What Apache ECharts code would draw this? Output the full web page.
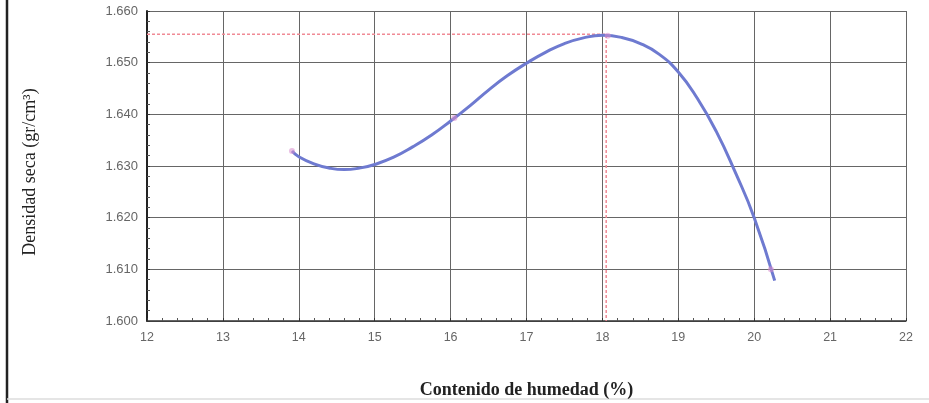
<!DOCTYPE html>
<html>
<head>
<meta charset="utf-8">
<title>Densidad seca vs contenido de humedad</title>
<script src="https://cdn.jsdelivr.net/npm/echarts@6/dist/echarts.min.js"></script>
<style>
  html, body { margin: 0; padding: 0; background: #fff; }
  #chart { width: 929px; height: 403px; }
</style>
</head>
<body>
<div id="chart"></div>
<script>
// curve (humedad %, densidad gr/cm3)
const curveHumedad = [13.91, 14.00, 14.20, 14.40, 14.60, 14.80, 15.00, 15.25, 15.50, 15.75, 16.00, 16.25, 16.50, 16.75, 17.00, 17.25, 17.50, 17.75, 18.00, 18.25, 18.50, 18.75, 19.00, 19.25, 19.50, 19.75, 20.00, 20.27]
const curveDensidad = [1.6329, 1.6318, 1.6304, 1.6296, 1.6293, 1.6296, 1.6303, 1.6317, 1.6337, 1.6360, 1.6387, 1.6416, 1.6447, 1.6475, 1.6499, 1.6520, 1.6537, 1.6548, 1.6553, 1.6549, 1.6537, 1.6516, 1.6482, 1.6431, 1.6367, 1.6288, 1.6200, 1.6078]

// measured points (small markers on the curve)
const puntosHumedad = [13.91, 16.05, 18.07, 20.22]
const puntosDensidad = [1.6329, 1.6393, 1.6552, 1.6100]

// optimum moisture / max dry density guide lines
const guiaHumedad = [12, 18.05, 18.05]
const guiaDensidad = [1.6555, 1.6555, 1.600]

const zip = (xs, ys) => xs.map((x, i) => [x, ys[i]])

const chart = echarts.init(document.getElementById('chart'))
chart.setOption({
  animation: false,
  grid: { left: 147, right: 23, top: 11, bottom: 82, outerBoundsMode: 'none' },
  xAxis: {
    type: 'value',
    min: 12,
    max: 22,
    interval: 1,
    name: 'Contenido de humedad (%)',
    nameLocation: 'middle',
    nameGap: 60,
    nameTextStyle: { fontFamily: 'Liberation Serif', fontWeight: 'bold', fontSize: 18, color: '#222' },
    axisLine: { lineStyle: { color: '#333', width: 1.5 } },
    axisTick: { inside: true, length: 3, lineStyle: { color: '#333' } },
    minorTick: { show: true, splitNumber: 5, length: 3, lineStyle: { color: '#555' } },
    axisLabel: { fontFamily: 'Liberation Sans', fontSize: 12.5, color: '#666', margin: 10 },
    splitLine: { show: true, lineStyle: { color: '#666', width: 1 } }
  },
  yAxis: {
    type: 'value',
    min: 1.600,
    max: 1.660,
    interval: 0.01,
    name: 'Densidad seca (gr/cm³)',
    nameLocation: 'middle',
    nameGap: 108,
    nameTextStyle: { fontFamily: 'Liberation Serif', fontSize: 18, color: '#222', padding: [0, 12, 0, 0] },
    axisLine: { show: true, lineStyle: { color: '#222', width: 2 } },
    axisTick: { inside: true, length: 3, lineStyle: { color: '#333' } },
    minorTick: { show: true, splitNumber: 5, length: 3, lineStyle: { color: '#555' } },
    axisLabel: {
      fontFamily: 'Liberation Sans', fontSize: 13, color: '#666', margin: 9,
      formatter: v => v.toFixed(3)
    },
    splitLine: { show: true, lineStyle: { color: '#666', width: 1 } }
  },
  series: [
    {
      type: 'line',
      data: zip(guiaHumedad, guiaDensidad),
      symbol: 'none',
      lineStyle: { color: '#f08a95', width: 1.5, type: [3, 2] },
      z: 2
    },
    {
      type: 'line',
      data: zip(curveHumedad, curveDensidad),
      smooth: true,
      symbol: 'none',
      lineStyle: { color: '#6e7ad0', width: 3 },
      z: 3
    },
    {
      type: 'scatter',
      data: zip(puntosHumedad, puntosDensidad),
      symbol: 'circle',
      symbolSize: 6,
      itemStyle: { color: 'rgba(215, 140, 205, 0.7)' },
      z: 4
    }
  ],
  graphic: [
    { type: 'line', shape: { x1: 7, y1: 0, x2: 7, y2: 403 }, style: { stroke: '#222', lineWidth: 2.5 } },
    { type: 'line', shape: { x1: 7, y1: 399, x2: 929, y2: 399 }, style: { stroke: '#ddd', lineWidth: 1.5 } }
  ]
})
</script>
</body>
</html>
